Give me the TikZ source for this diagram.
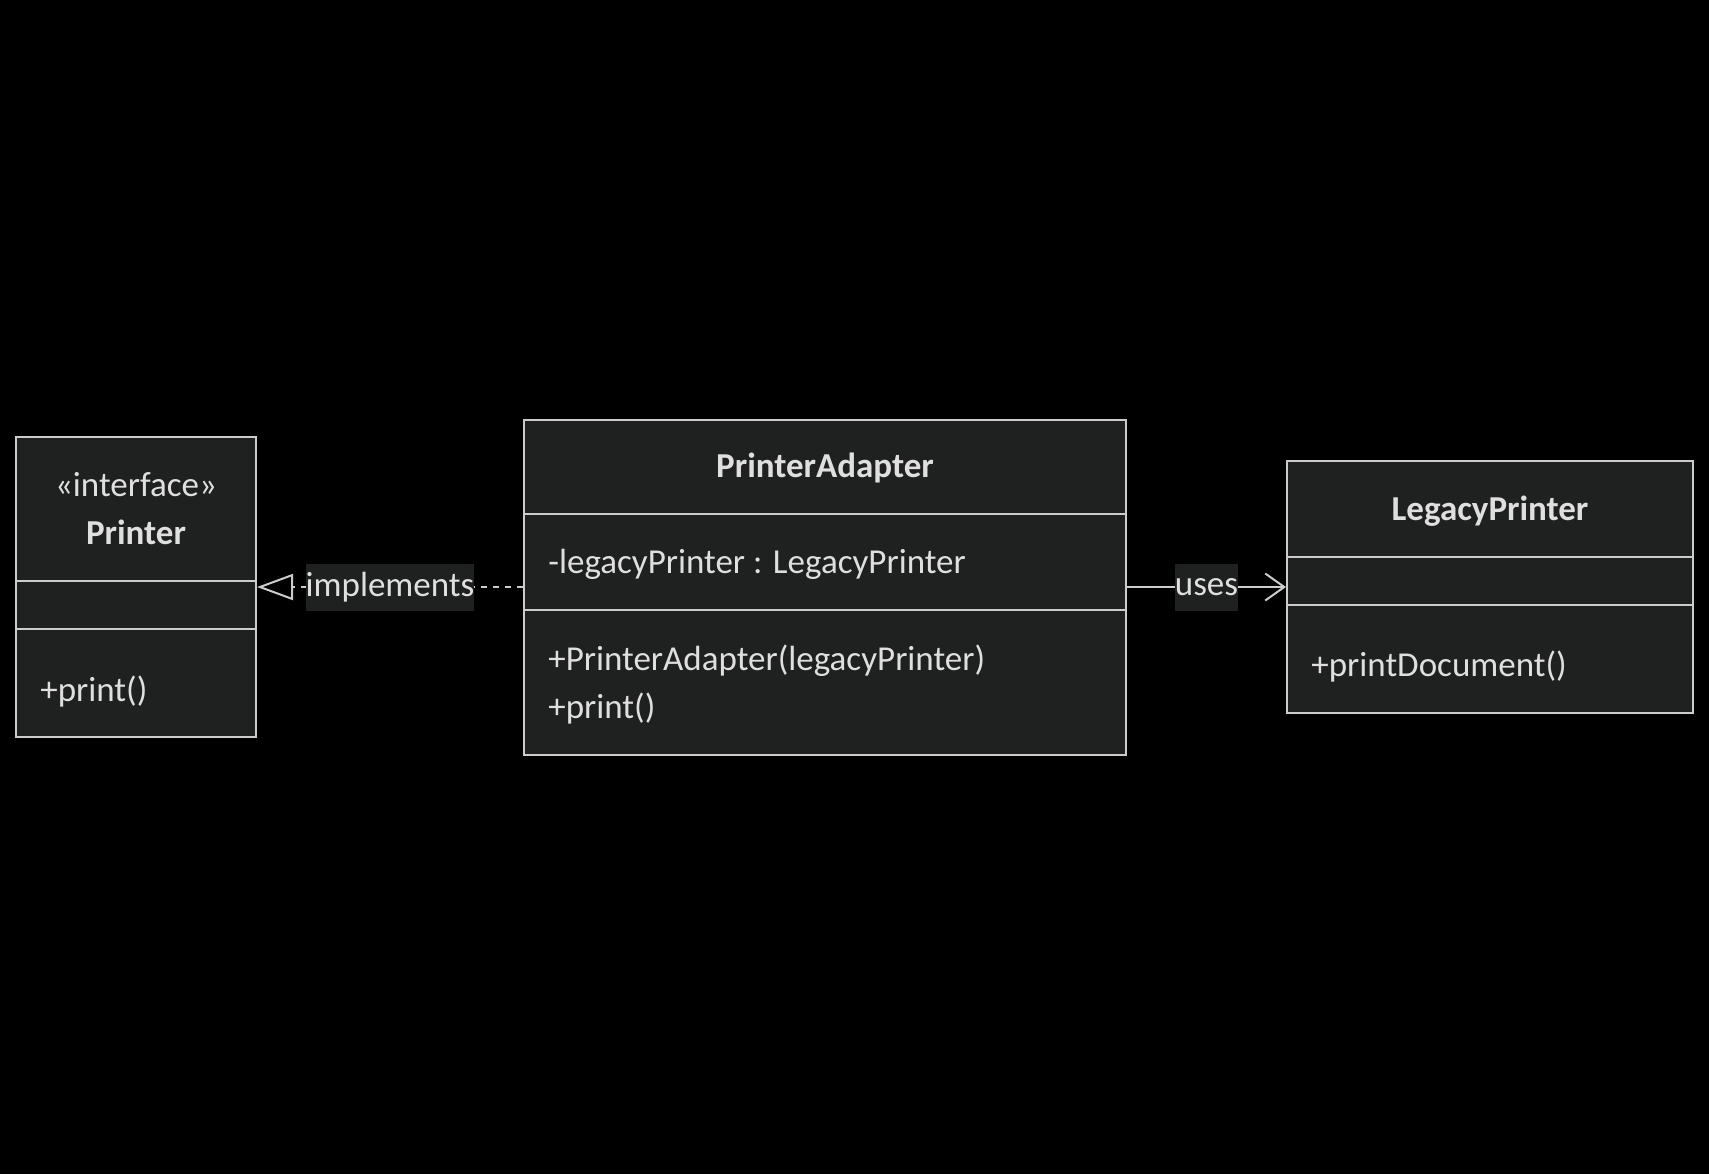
\documentclass[tikz,border=0pt]{standalone}
\usepackage{fontspec}
\setmainfont{Carlito}
\usetikzlibrary{arrows.meta}
\definecolor{bgblack}{HTML}{000000}
\definecolor{boxfill}{HTML}{1F2020}
\definecolor{boxline}{HTML}{CCCCCC}
\definecolor{boxtext}{HTML}{E0DFDF}

\begin{document}
\begin{tikzpicture}[x=0.5pt, y=-0.5pt,
	classbox/.style={draw=boxline, fill=boxfill, line width=1pt, inner sep=0pt},
	divider/.style={draw=boxline, line width=1pt},
	title/.style={text=boxtext, inner sep=0pt, font=\fontsize{17.5}{21}\selectfont\bfseries},
	stereo/.style={text=boxtext, inner sep=0pt, font=\fontsize{17.5}{21}\selectfont},
	member/.style={text=boxtext, anchor=west, inner sep=0pt, font=\fontsize{17.5}{21}\selectfont},
	edgelabel/.style={fill=boxfill, text=boxtext, inner xsep=0pt, minimum height=23.5pt, font=\fontsize{17.5}{21}\selectfont},
	link/.style={draw=boxline, line width=1pt}]

	\fill[bgblack] (0,0) rectangle (1709,1174);
	\useasboundingbox (0,0) rectangle (1709,1174);

	\node[classbox, minimum width=120pt, minimum height=150pt] (printer) at (136,587) {};
	\node[classbox, minimum width=301pt, minimum height=167.5pt] (adapter) at (825,587) {};
	\node[classbox, minimum width=203pt, minimum height=126pt] (legacy) at (1490,587) {};

	\draw[divider] (printer.west |- 0,581) -- (printer.east |- 0,581);
	\draw[divider] (printer.west |- 0,629) -- (printer.east |- 0,629);
	\draw[divider] (adapter.west |- 0,514) -- (adapter.east |- 0,514);
	\draw[divider] (adapter.west |- 0,610) -- (adapter.east |- 0,610);
	\draw[divider] (legacy.west |- 0,557) -- (legacy.east |- 0,557);
	\draw[divider] (legacy.west |- 0,605) -- (legacy.east |- 0,605);

	\node[stereo] (printerstereo) at (printer.north |- 0,485) {«interface»};
	\node[title] (printername) at (printer.north |- 0,532) {Printer};
	\node[member] (printerprint) at (40,691.5) {+print()};

	\node[title] (adaptername) at (adapter.north |- 0,468) {PrinterAdapter};
	\node[member] (adapterfield) at (548,564.5) {-legacyPrinter : LegacyPrinter};
	\node[member] (adapterctor) at (548,660.5) {+PrinterAdapter(legacyPrinter)};
	\node[member] (adapterprint) at (548,708.5) {+print()};

	\node[title] (legacyname) at (legacy.north |- 0,511) {LegacyPrinter};
	\node[member] (legacyprint) at (1311,666.5) {+printDocument()};

	\draw[link, dash pattern=on 3pt off 3pt, -{Triangle[open, length=18pt, width=13pt]}] (adapter) -- node[edgelabel] {implements} (printer);
	\draw[link, -{Straight Barb[length=9.5pt, width=13.5pt]}] (adapter) -- node[edgelabel] {uses} (legacy);
\end{tikzpicture}
\end{document}
